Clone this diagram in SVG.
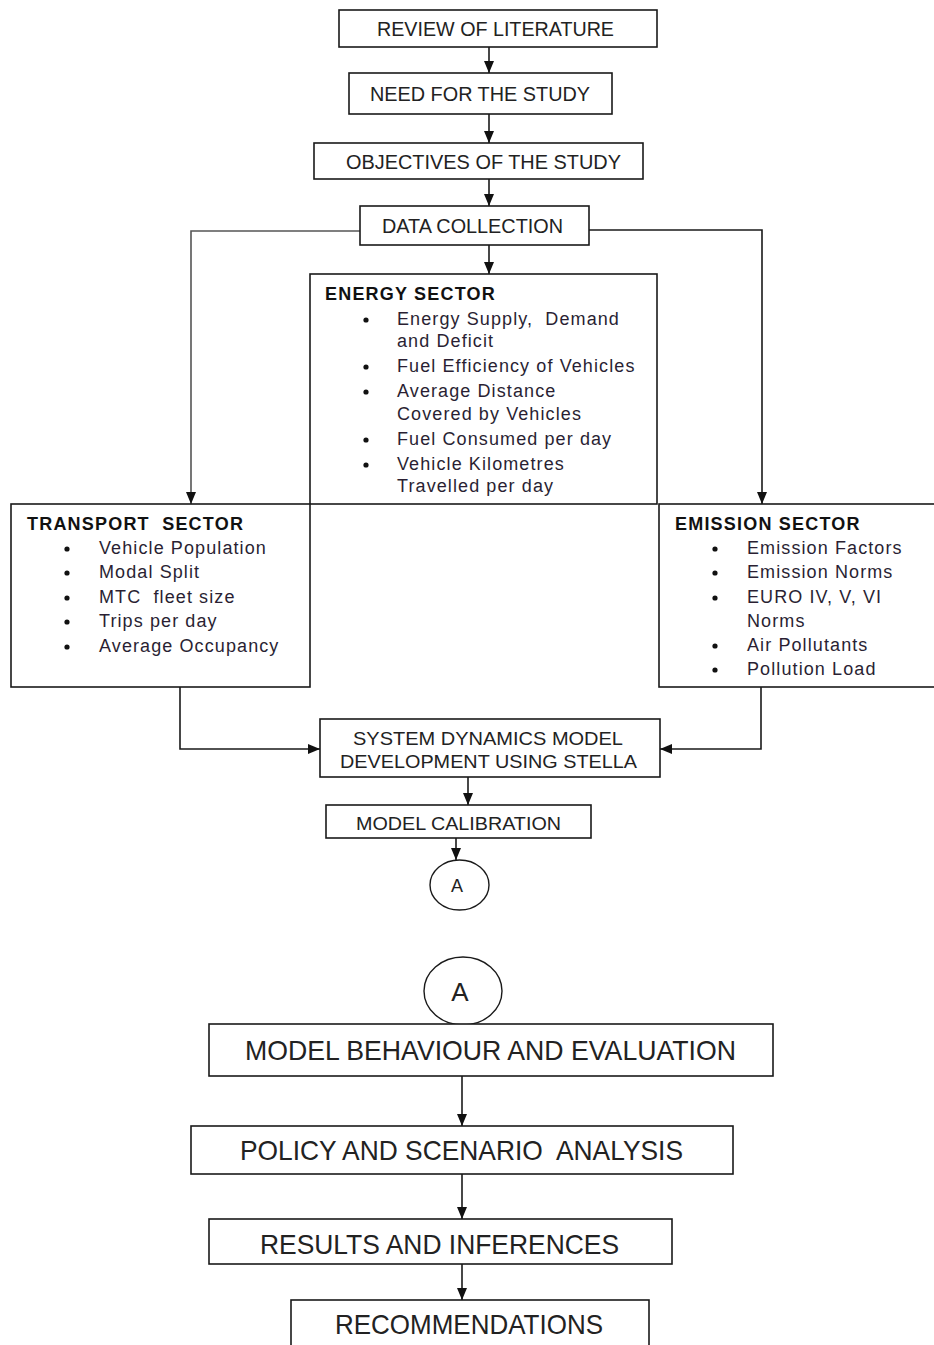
<svg xmlns="http://www.w3.org/2000/svg" width="934" height="1345" viewBox="0 0 934 1345">
  <style>
    .box { fill: #fff; stroke: #1a1a1a; stroke-width: 1.6; }
    .circ { fill: #fff; stroke: #1a1a1a; stroke-width: 1.4; }
    .lbl { font-family: "Liberation Sans", Arial, sans-serif; fill: #222; text-anchor: middle; white-space: pre; }
    .head { font-family: "Liberation Sans", Arial, sans-serif; font-weight: bold; font-size: 18px; fill: #111; letter-spacing: 1.2px; white-space: pre; }
    .item { font-family: "Liberation Sans", Arial, sans-serif; font-size: 18px; fill: #2a1f33; letter-spacing: 1.1px; white-space: pre; }
    .dot { fill: #111; }
    .wire { fill: none; stroke: #1a1a1a; stroke-width: 1.6; }
    .grey { stroke: #555; }
  </style>
  <defs>
    <marker id="arrow" markerUnits="userSpaceOnUse" markerWidth="13" markerHeight="13" viewBox="0 0 13 13" refX="12" refY="6.5" orient="auto">
      <path d="M0,1.5 L12,6.5 L0,11.5 Z" fill="#111"/>
    </marker>
  </defs>
  <rect width="934" height="1345" fill="#fff"/>

  <!-- connectors -->
  <g id="connectors">
    <line class="wire" x1="489" y1="47" x2="489" y2="73" marker-end="url(#arrow)"/>
    <line class="wire" x1="489" y1="114" x2="489" y2="143" marker-end="url(#arrow)"/>
    <line class="wire" x1="489" y1="179" x2="489" y2="206" marker-end="url(#arrow)"/>
    <line class="wire" x1="489" y1="245" x2="489" y2="274" marker-end="url(#arrow)"/>
    <polyline class="wire grey" points="360,231 191,231 191,504" marker-end="url(#arrow)"/>
    <polyline class="wire" points="589,230 762,230 762,504" marker-end="url(#arrow)"/>
    <polyline class="wire" points="180,687 180,749 320,749" marker-end="url(#arrow)"/>
    <polyline class="wire" points="761,687 761,749 660,749" marker-end="url(#arrow)"/>
    <line class="wire" x1="468" y1="777" x2="468" y2="805" marker-end="url(#arrow)"/>
    <line class="wire" x1="456" y1="838" x2="456" y2="860" marker-end="url(#arrow)"/>
    <line class="wire" x1="462" y1="1076" x2="462" y2="1126" marker-end="url(#arrow)"/>
    <line class="wire" x1="462" y1="1174" x2="462" y2="1219" marker-end="url(#arrow)"/>
    <line class="wire" x1="462" y1="1264" x2="462" y2="1300" marker-end="url(#arrow)"/>
  </g>

  <g id="review">
    <rect class="box" x="339" y="10" width="318" height="37"/>
    <text class="lbl" x="495.5" y="36" font-size="19.5" textLength="237" lengthAdjust="spacingAndGlyphs">REVIEW OF LITERATURE</text>
  </g>
  <g id="need">
    <rect class="box" x="349" y="73" width="263" height="41"/>
    <text class="lbl" x="480" y="101" font-size="19.5" textLength="220" lengthAdjust="spacingAndGlyphs">NEED FOR THE STUDY</text>
  </g>
  <g id="objectives">
    <rect class="box" x="314" y="143" width="329" height="36"/>
    <text class="lbl" x="483.5" y="169" font-size="19.5" textLength="275" lengthAdjust="spacingAndGlyphs">OBJECTIVES OF THE STUDY</text>
  </g>
  <g id="data-collection">
    <rect class="box" x="360" y="206" width="229" height="39"/>
    <text class="lbl" x="472.5" y="233" font-size="19.5" textLength="181" lengthAdjust="spacingAndGlyphs">DATA COLLECTION</text>
  </g>

  <g id="energy-sector">
    <rect class="box" x="310" y="274" width="347" height="230"/>
    <text class="head" x="325" y="300">ENERGY SECTOR</text>
    <circle class="dot" cx="366" cy="320" r="2.6"/>
    <text class="item" x="397" y="325">Energy Supply,  Demand</text>
    <text class="item" x="397" y="347">and Deficit</text>
    <circle class="dot" cx="366" cy="367" r="2.6"/>
    <text class="item" x="397" y="372">Fuel Efficiency of Vehicles</text>
    <circle class="dot" cx="366" cy="392" r="2.6"/>
    <text class="item" x="397" y="397">Average Distance</text>
    <text class="item" x="397" y="420">Covered by Vehicles</text>
    <circle class="dot" cx="366" cy="440" r="2.6"/>
    <text class="item" x="397" y="445">Fuel Consumed per day</text>
    <circle class="dot" cx="366" cy="465" r="2.6"/>
    <text class="item" x="397" y="470">Vehicle Kilometres</text>
    <text class="item" x="397" y="492">Travelled per day</text>
  </g>

  <g id="transport-sector">
    <rect class="box" x="11" y="504" width="299" height="183"/>
    <text class="head" x="27" y="530">TRANSPORT  SECTOR</text>
    <circle class="dot" cx="67" cy="549" r="2.6"/>
    <text class="item" x="99" y="554">Vehicle Population</text>
    <circle class="dot" cx="67" cy="573" r="2.6"/>
    <text class="item" x="99" y="578">Modal Split</text>
    <circle class="dot" cx="67" cy="598" r="2.6"/>
    <text class="item" x="99" y="603">MTC  fleet size</text>
    <circle class="dot" cx="67" cy="622" r="2.6"/>
    <text class="item" x="99" y="627">Trips per day</text>
    <circle class="dot" cx="67" cy="647" r="2.6"/>
    <text class="item" x="99" y="652">Average Occupancy</text>
  </g>

  <g id="emission-sector">
    <rect class="box" x="659" y="504" width="285" height="183"/>
    <text class="head" x="675" y="530">EMISSION SECTOR</text>
    <circle class="dot" cx="715" cy="549" r="2.6"/>
    <text class="item" x="747" y="554">Emission Factors</text>
    <circle class="dot" cx="715" cy="573" r="2.6"/>
    <text class="item" x="747" y="578">Emission Norms</text>
    <circle class="dot" cx="715" cy="598" r="2.6"/>
    <text class="item" x="747" y="603">EURO IV, V, VI</text>
    <text class="item" x="747" y="627">Norms</text>
    <circle class="dot" cx="715" cy="646" r="2.6"/>
    <text class="item" x="747" y="651">Air Pollutants</text>
    <circle class="dot" cx="715" cy="670" r="2.6"/>
    <text class="item" x="747" y="675">Pollution Load</text>
  </g>

  <g id="system-dynamics">
    <rect class="box" x="320" y="719" width="340" height="58"/>
    <text class="lbl" x="488" y="745" font-size="19" textLength="270" lengthAdjust="spacingAndGlyphs">SYSTEM DYNAMICS MODEL</text>
    <text class="lbl" x="488.5" y="768" font-size="19" textLength="297" lengthAdjust="spacingAndGlyphs">DEVELOPMENT USING STELLA</text>
  </g>
  <g id="calibration">
    <rect class="box" x="326" y="805" width="265" height="33"/>
    <text class="lbl" x="458.5" y="830" font-size="19" textLength="205" lengthAdjust="spacingAndGlyphs">MODEL CALIBRATION</text>
  </g>
  <g id="connector-a-out">
    <ellipse class="circ" cx="459.5" cy="885" rx="29.5" ry="25"/>
    <text class="lbl" x="457" y="892" font-size="18">A</text>
  </g>

  <g id="connector-a-in">
    <ellipse class="circ" cx="463" cy="991" rx="39" ry="34"/>
    <text class="lbl" x="460" y="1001" font-size="26">A</text>
  </g>
  <g id="behaviour">
    <rect class="box" x="209" y="1024" width="564" height="52"/>
    <text class="lbl" x="490.5" y="1060" font-size="28" textLength="491" lengthAdjust="spacingAndGlyphs">MODEL BEHAVIOUR AND EVALUATION</text>
  </g>
  <g id="policy">
    <rect class="box" x="191" y="1126" width="542" height="48"/>
    <text class="lbl" x="461.5" y="1160" font-size="28" textLength="443" lengthAdjust="spacingAndGlyphs">POLICY AND SCENARIO  ANALYSIS</text>
  </g>
  <g id="results">
    <rect class="box" x="209" y="1219" width="463" height="45"/>
    <text class="lbl" x="439.5" y="1254" font-size="28" textLength="359" lengthAdjust="spacingAndGlyphs">RESULTS AND INFERENCES</text>
  </g>
  <g id="recommendations">
    <rect class="box" x="291" y="1300" width="358" height="60"/>
    <text class="lbl" x="469" y="1334" font-size="28" textLength="268" lengthAdjust="spacingAndGlyphs">RECOMMENDATIONS</text>
  </g>
</svg>
